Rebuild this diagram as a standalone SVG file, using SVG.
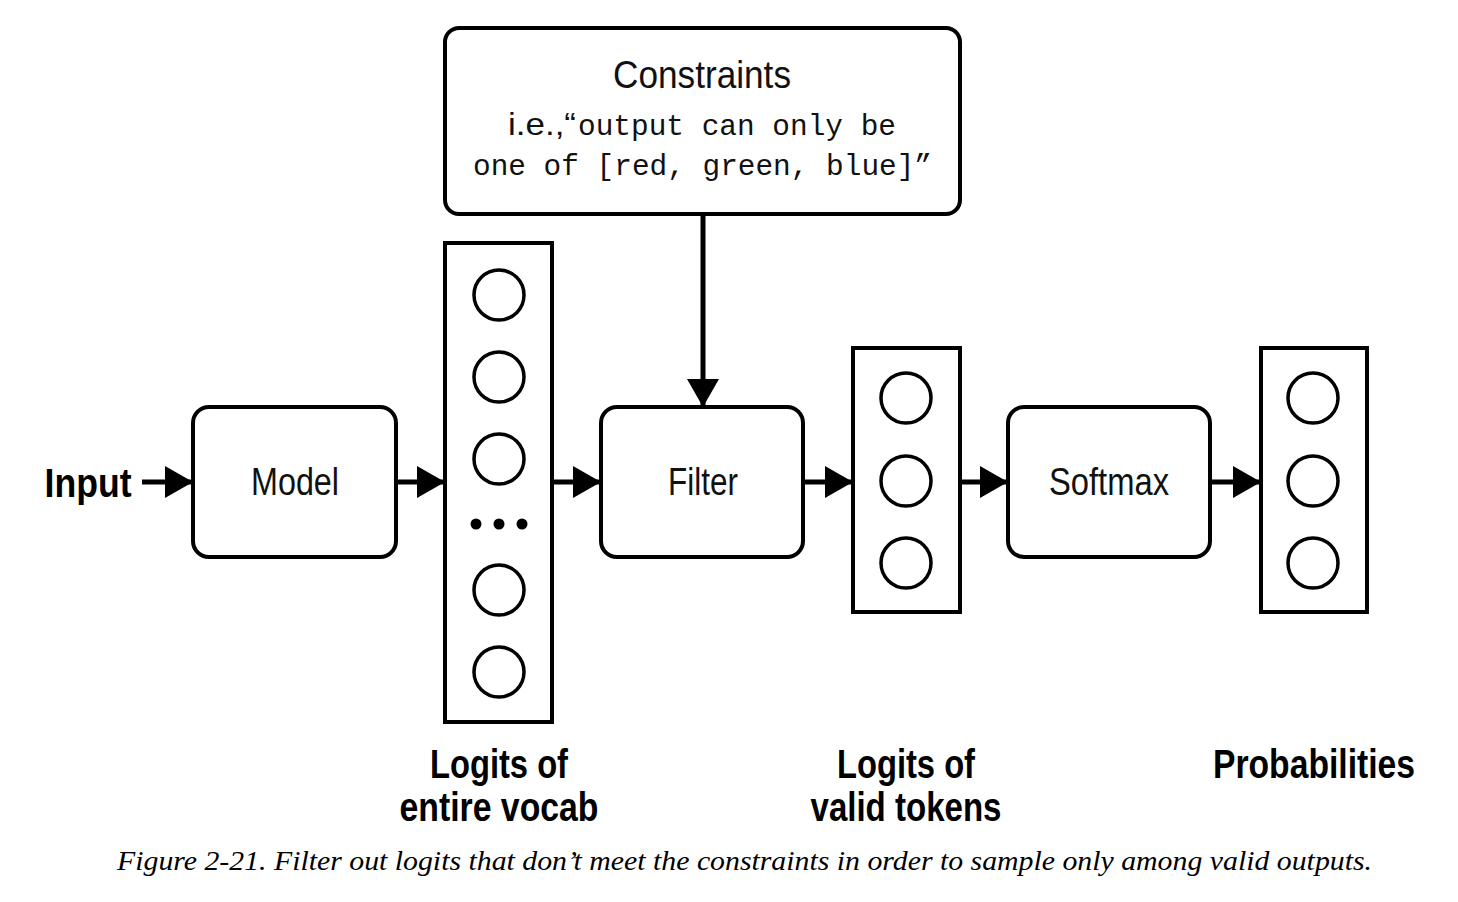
<svg xmlns="http://www.w3.org/2000/svg" width="1458" height="902" viewBox="0 0 1458 902">
<defs>
<style>
.box{fill:#fff;stroke:#000;stroke-width:4}
.col{fill:#fff;stroke:#000;stroke-width:4}
.c{fill:none;stroke:#000;stroke-width:3.5}
.lbl{font-family:"Liberation Sans",Arial,sans-serif;font-size:38px;text-anchor:middle;fill:#111}
.big{font-family:"Liberation Sans",Arial,sans-serif;font-size:40px;font-weight:bold;text-anchor:middle;fill:#000}
.mono{font-family:"Liberation Mono","DejaVu Sans Mono",monospace;font-size:30px;fill:#111}
.cap{font-family:"Liberation Serif","Times New Roman",serif;font-style:italic;font-size:28px;fill:#000}
.line{stroke:#000;stroke-width:5;fill:none}
</style>
<marker id="ah" markerWidth="28" markerHeight="32" refX="28" refY="16" orient="auto" markerUnits="userSpaceOnUse">
<path d="M0,0 L28,16 L0,32 Z" fill="#000"/>
</marker>
</defs>

<g id="constraints">
<rect class="box" x="445" y="28" width="515" height="186" rx="14"/>
<text class="lbl" x="702" y="88" font-size="42" textLength="178" lengthAdjust="spacingAndGlyphs">Constraints</text>
<text x="508" y="135" class="mono"><tspan font-family="Liberation Sans,Arial,sans-serif" font-size="32" textLength="68" lengthAdjust="spacingAndGlyphs">i.e.,“</tspan><tspan x="578" textLength="318" lengthAdjust="spacingAndGlyphs">output can only be</tspan></text>
<text x="473" y="175" class="mono" textLength="459" lengthAdjust="spacingAndGlyphs">one of [red, green, blue]”</text>
</g>

<g id="input">
<text class="big" x="88" y="497" textLength="87" lengthAdjust="spacingAndGlyphs">Input</text>
</g>

<g id="model">
<rect class="box" x="193" y="407" width="203" height="150" rx="16"/>
<text class="lbl" x="295" y="495" textLength="88" lengthAdjust="spacingAndGlyphs">Model</text>
</g>

<g id="vocab">
<rect class="col" x="445" y="243" width="107" height="479"/>
<circle class="c" cx="499" cy="295" r="25"/>
<circle class="c" cx="499" cy="377" r="25"/>
<circle class="c" cx="499" cy="459" r="25"/>
<circle cx="476" cy="524" r="5.5"/>
<circle cx="499" cy="524" r="5.5"/>
<circle cx="522" cy="524" r="5.5"/>
<circle class="c" cx="499" cy="590" r="25"/>
<circle class="c" cx="499" cy="672" r="25"/>
<text class="big" x="499" y="778" textLength="138" lengthAdjust="spacingAndGlyphs">Logits of</text>
<text class="big" x="499" y="821" textLength="199" lengthAdjust="spacingAndGlyphs">entire vocab</text>
</g>

<g id="filter">
<rect class="box" x="601" y="407" width="202" height="150" rx="16"/>
<text class="lbl" x="703" y="495" textLength="70" lengthAdjust="spacingAndGlyphs">Filter</text>
</g>

<g id="valid">
<rect class="col" x="853" y="348" width="107" height="264"/>
<circle class="c" cx="906" cy="398" r="25"/>
<circle class="c" cx="906" cy="481" r="25"/>
<circle class="c" cx="906" cy="563" r="25"/>
<text class="big" x="906" y="778" textLength="138" lengthAdjust="spacingAndGlyphs">Logits of</text>
<text class="big" x="906" y="821" textLength="191" lengthAdjust="spacingAndGlyphs">valid tokens</text>
</g>

<g id="softmax">
<rect class="box" x="1008" y="407" width="202" height="150" rx="16"/>
<text class="lbl" x="1109" y="495" textLength="120" lengthAdjust="spacingAndGlyphs">Softmax</text>
</g>

<g id="probs">
<rect class="col" x="1261" y="348" width="106" height="264"/>
<circle class="c" cx="1313" cy="398" r="25"/>
<circle class="c" cx="1313" cy="481" r="25"/>
<circle class="c" cx="1313" cy="563" r="25"/>
<text class="big" x="1314" y="778" textLength="202" lengthAdjust="spacingAndGlyphs">Probabilities</text>
</g>

<g id="connectors">
<line class="line" x1="703" y1="214" x2="703" y2="407" marker-end="url(#ah)"/>
<line class="line" x1="142" y1="482" x2="193" y2="482" marker-end="url(#ah)"/>
<line class="line" x1="396" y1="482" x2="445" y2="482" marker-end="url(#ah)"/>
<line class="line" x1="552" y1="482" x2="601" y2="482" marker-end="url(#ah)"/>
<line class="line" x1="803" y1="482" x2="853" y2="482" marker-end="url(#ah)"/>
<line class="line" x1="960" y1="482" x2="1008" y2="482" marker-end="url(#ah)"/>
<line class="line" x1="1210" y1="482" x2="1261" y2="482" marker-end="url(#ah)"/>
</g>

<text class="cap" x="117" y="870" textLength="1255" lengthAdjust="spacingAndGlyphs">Figure 2-21. Filter out logits that don’t meet the constraints in order to sample only among valid outputs.</text>
</svg>
